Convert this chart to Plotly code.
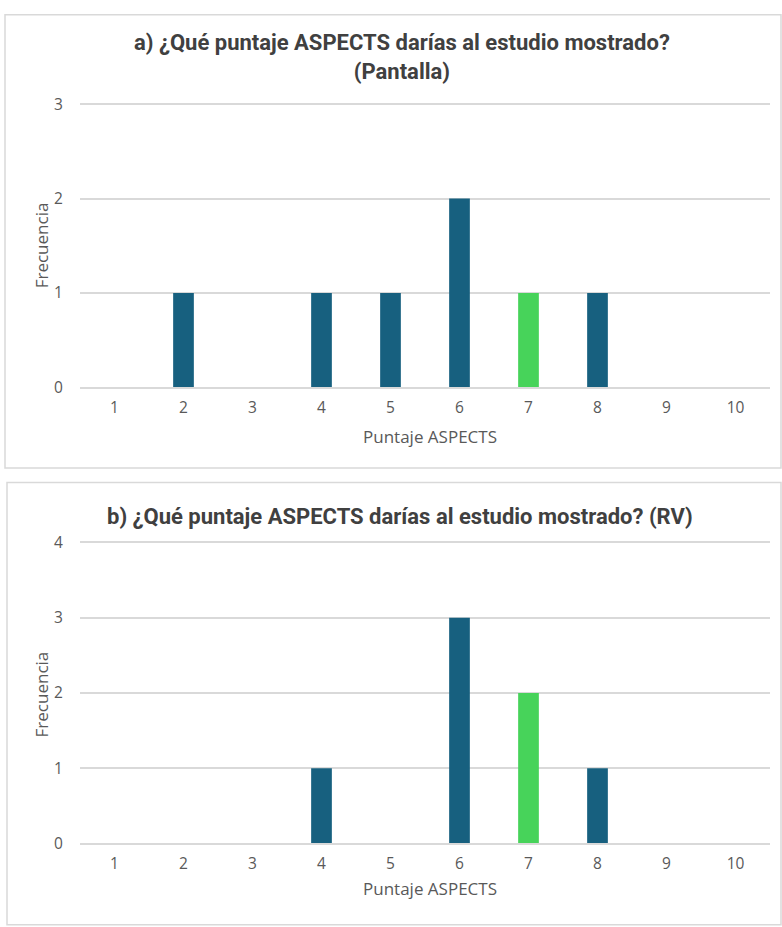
import plotly.graph_objects as go

# Puntaje ASPECTS categories and response counts
scores = ["1", "2", "3", "4", "5", "6", "7", "8", "9", "10"]
freq_pantalla = [0, 1, 0, 1, 1, 2, 1, 1, 0, 0]
freq_rv = [0, 0, 0, 1, 0, 3, 2, 1, 0, 0]
correct_score = "7"

title_a = "a) ¿Qué puntaje ASPECTS darías al estudio mostrado?<br>(Pantalla)"
title_b = "b) ¿Qué puntaje ASPECTS darías al estudio mostrado? (RV)"
x_title = "Puntaje ASPECTS"
y_title = "Frecuencia"

BLUE = "#17607F"
GREEN = "#47D35A"
GRID = "#D9D9D9"
TEXT = "#595959"
TITLE = "#404040"

W, H = 782, 927


def px(x):
    return x / W


def py(y):
    return 1 - y / H


def colors(cats):
    return [GREEN if c == correct_score else BLUE for c in cats]


fig = go.Figure()
fig.add_trace(go.Bar(x=scores, y=freq_pantalla,
                     marker=dict(color=colors(scores), line=dict(width=0)),
                     xaxis="x", yaxis="y", showlegend=False))
fig.add_trace(go.Bar(x=scores, y=freq_rv,
                     marker=dict(color=colors(scores), line=dict(width=0)),
                     xaxis="x2", yaxis="y2", showlegend=False))

tick_font = dict(family="Open Sans", size=15.5, color=TEXT)
xcommon = dict(type="category", showgrid=False, showline=True, linecolor=GRID,
               linewidth=1.5, ticks="outside", ticklen=5, tickcolor="rgba(0,0,0,0)",
               tickfont=tick_font, fixedrange=True)
ycommon = dict(showgrid=True, gridcolor=GRID, gridwidth=1.5, zeroline=False,
               showline=False, ticks="outside", ticklen=13,
               tickcolor="rgba(0,0,0,0)", tickfont=tick_font, fixedrange=True)

# a little headroom above the top gridline so that it is still drawn
YMAX_A, YMAX_B = 3, 4
PAD = 0.05
top_a = 387 - (387 - 98) * (YMAX_A + PAD) / YMAX_A
top_b = 852 - (852 - 545) * (YMAX_B + PAD) / YMAX_B

fig.update_layout(
    width=W, height=H,
    margin=dict(l=0, r=0, t=0, b=0),
    paper_bgcolor="white", plot_bgcolor="white",
    bargap=0.7,
    xaxis=dict(domain=[px(80), px(770)], anchor="y", **xcommon),
    yaxis=dict(domain=[py(387), py(top_a)], anchor="x",
               range=[0, YMAX_A + PAD], tickvals=list(range(YMAX_A + 1)), **ycommon),
    xaxis2=dict(domain=[px(80), px(770)], anchor="y2", **xcommon),
    yaxis2=dict(domain=[py(852), py(top_b)], anchor="x2",
                range=[0, YMAX_B + PAD], tickvals=list(range(YMAX_B + 1)), **ycommon),
)

# panel frames
fig.add_shape(type="rect", xref="paper", yref="paper",
              x0=px(5), x1=px(781), y0=py(469), y1=py(7),
              line=dict(color="#D9D9D9", width=1.5), fillcolor="rgba(0,0,0,0)")
fig.add_shape(type="rect", xref="paper", yref="paper",
              x0=px(7), x1=px(781), y0=py(935), y1=py(484),
              line=dict(color="#D9D9D9", width=1.5), fillcolor="rgba(0,0,0,0)")

title_font = dict(family="Roboto", size=22, color=TITLE)
label_font = dict(family="Open Sans", size=17, color=TEXT)

annotations = [
    dict(text="<b>" + title_a.replace("<br>", "</b><br><b>") + "</b>",
         x=px(402), y=py(49.5), xref="paper", yref="paper",
         showarrow=False, font=title_font, align="center", xanchor="center",
         yanchor="middle"),
    dict(text="<b>" + title_b + "</b>", x=px(400), y=py(519), xref="paper",
         yref="paper", showarrow=False, font=title_font, xanchor="center",
         yanchor="middle"),
    dict(text=x_title, x=px(430), y=py(437), xref="paper", yref="paper",
         showarrow=False, font=label_font, xanchor="center", yanchor="middle"),
    dict(text=x_title, x=px(430), y=py(898), xref="paper", yref="paper",
         showarrow=False, font=label_font, xanchor="center", yanchor="middle"),
    dict(text=y_title, x=px(41), y=py(242), xref="paper", yref="paper",
         showarrow=False, font=label_font, textangle=-90, xanchor="center",
         yanchor="middle"),
    dict(text=y_title, x=px(41), y=py(700), xref="paper", yref="paper",
         showarrow=False, font=label_font, textangle=-90, xanchor="center",
         yanchor="middle"),
]
fig.update_layout(annotations=annotations)

fig.write_html("out.html")
